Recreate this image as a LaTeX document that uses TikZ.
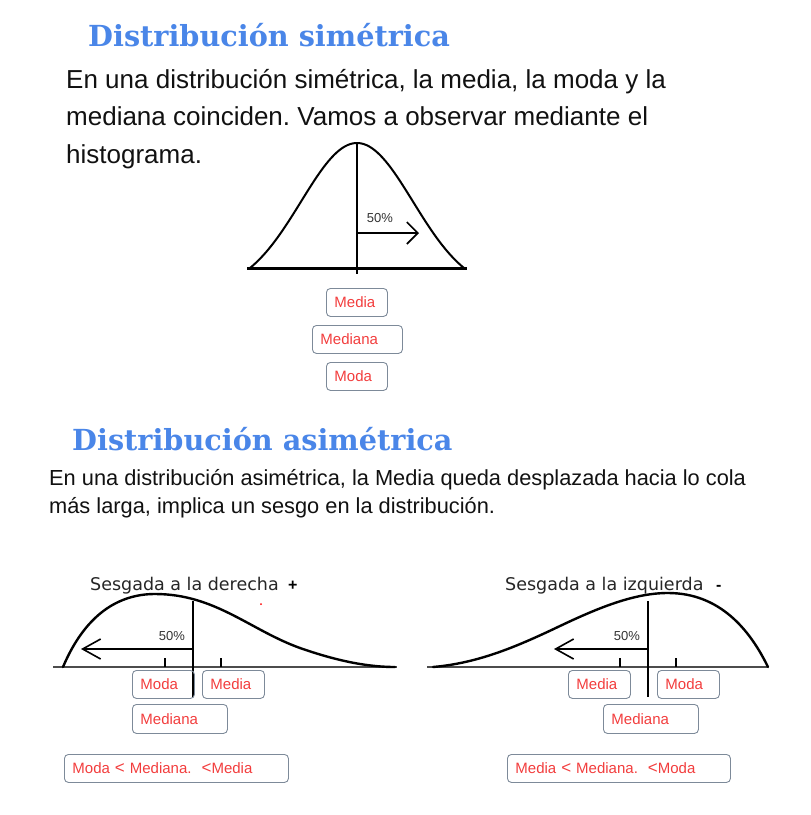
\documentclass[tikz,border=0pt]{standalone}
\usepackage{fontspec}
\setmainfont{Liberation Sans}
\newfontfamily\titlefont{DejaVu Serif}
\newfontfamily\labfont{DejaVu Sans}
\usetikzlibrary{arrows.meta}
\definecolor{titleblue}{HTML}{4A86E8}
\definecolor{boxred}{HTML}{F23D3D}
\definecolor{boxgray}{HTML}{7D8A99}
\definecolor{txt}{HTML}{111111}
\frenchspacing
\tikzset{
  ttl/.style={anchor=base west, inner sep=0pt, text=titleblue, font=\titlefont\bfseries\fontsize{29}{32}\selectfont},
  para/.style={anchor=base west, inner sep=0pt, text=txt},
  lbl/.style={anchor=base west, inner sep=0pt, text=black!85, font=\labfont\fontsize{17.5}{20}\selectfont},
  pct/.style={inner sep=0pt, text=black!80, font=\fontsize{13}{15}\selectfont},
  rbox/.style={draw=boxgray, line width=0.9pt, rounded corners=4pt, anchor=north west, text=boxred,
     font=\fontsize{15}{17}\selectfont, align=left, inner xsep=8pt, inner ysep=0pt, minimum height=28pt},
  crv/.style={line width=2.4pt, line cap=round},
  vline/.style={line width=2pt},
  tick/.style={line width=1.8pt},
  axis/.style={line width=1.3pt, draw=black!70},
  arr/.style={line width=2.2pt, -{Straight Barb[length=18pt,width=20pt,line width=1.6pt]}},
}
\begin{document}
\begin{tikzpicture}[x=1pt,y=-1pt]
\useasboundingbox (0,0) rectangle (811,815);
% ---------- symmetric ----------
\node[ttl] (t1) at (88,46) {\scalebox{0.99}[1]{Distribución simétrica}};
\node[para, font=\fontsize{26}{29}\selectfont] (p1a) at (66,88) {En una distribución simétrica, la media, la moda y la};
\node[para, font=\fontsize{26}{29}\selectfont] (p1b) at (66,125) {mediana coinciden. Vamos a observar mediante el};
\node[para, font=\fontsize{26}{29}\selectfont] (p1c) at (66,163) {histograma.};

\draw[line width=3pt] (247,268) -- (467,268);
\draw[crv, line width=2pt, domain=-107:107, samples=80, smooth]
  plot ({357+\x}, {268-125*(exp(-(\x*\x)/(2*56*56))-0.161)/(1-0.161)});
\coordinate (sv0) at (357,143);
\coordinate (sv1) at (357,274);
\draw[vline] (sv0) -- (sv1);
\coordinate (sa0) at (357,233);
\coordinate (sa1) at (419,233);
\draw[line width=2pt, -{Straight Barb[length=11pt,width=22pt,line width=1.6pt]}] (sa0) -- (sa1);
\node[pct] (s50) at (380,218) {50\%};

\node[rbox, minimum width=61pt, text width=45pt] (sm1) at (326,288) {Media};
\node[rbox, minimum width=90pt, text width=74pt] (sm2) at (312,325) {Mediana};
\node[rbox, minimum width=61pt, text width=45pt] (sm3) at (326,362) {Moda};

% ---------- asymmetric ----------
\node[ttl] (t2) at (72,450) {\scalebox{0.99}[1]{Distribución asimétrica}};
\node[para, font=\fontsize{21.8}{25}\selectfont] (p2a) at (49,485) {En una distribución asimétrica, la Media queda desplazada hacia lo cola};
\node[para, font=\fontsize{21.8}{25}\selectfont] (p2b) at (49,513) {más larga, implica un sesgo en la distribución.};

% left chart
\node[lbl] (l1) at (90,590) {Sesgada a la derecha};
\node[anchor=base west, inner sep=0pt, font=\bfseries\fontsize{16}{18}\selectfont] (lp) at (288,590) {+};
\fill[red] (261,604) circle (1pt);
\coordinate (la0) at (53,667);
\coordinate (la1) at (397,667);
\draw[axis] (la0) -- (la1);
\draw[crv] (63,667) .. controls (85,615) and (118,594) .. (155,594)
  .. controls (215,594) and (250,630) .. (300,648)
  .. controls (340,662) and (370,667) .. (395,667);
\coordinate (lv0) at (193,601);
\coordinate (lv1) at (193,697);
\draw[vline] (lv0) -- (lv1);
\coordinate (lr0) at (193,649);
\coordinate (lr1) at (81,649);
\draw[arr] (lr0) -- (lr1);
\node[pct] (l50) at (172,636) {50\%};
\draw[tick] (165,658) -- (165,667);
\draw[tick] (221,658) -- (221,667);
\node[rbox, minimum width=62pt, text width=46pt] (lb1) at (132,670) {Moda};
\node[rbox, minimum width=62pt, text width=46pt] (lb2) at (202,670) {Media};
\node[rbox, minimum width=95pt, text width=79pt, minimum height=29pt] (lb3) at (132,704) {Mediana};
\node[rbox, minimum width=224pt, text width=208pt] (lb4) at (64,754) {Moda {\fontsize{17}{17}\selectfont<} Mediana.\ \ {\fontsize{17}{17}\selectfont<}Media};

% right chart
\node[lbl] (r1) at (505,590) {Sesgada a la izquierda};
\node[anchor=base west, inner sep=0pt, font=\bfseries\fontsize{16}{18}\selectfont] (rm) at (716,590) {-};
\coordinate (ra0) at (427,667);
\coordinate (ra1) at (768,667);
\draw[axis] (ra0) -- (ra1);
\draw[crv] (433,667) .. controls (480,663) and (520,645) .. (560,626)
  .. controls (600,607) and (635,593) .. (668,593)
  .. controls (720,593) and (750,630) .. (768,667);
\coordinate (rv0) at (648,601);
\coordinate (rv1) at (648,697);
\draw[vline] (rv0) -- (rv1);
\coordinate (rr0) at (648,649);
\coordinate (rr1) at (554,649);
\draw[arr] (rr0) -- (rr1);
\node[pct] (r50) at (627,636) {50\%};
\draw[tick] (620,658) -- (620,667);
\draw[tick] (676,658) -- (676,667);
\node[rbox, minimum width=62pt, text width=46pt] (rb1) at (568,670) {Media};
\node[rbox, minimum width=62pt, text width=46pt] (rb2) at (657,670) {Moda};
\node[rbox, minimum width=95pt, text width=79pt, minimum height=29pt] (rb3) at (603,704) {Mediana};
\node[rbox, minimum width=223pt, text width=207pt] (rb4) at (507,754) {Media {\fontsize{17}{17}\selectfont<} Mediana.\ \ {\fontsize{17}{17}\selectfont<}Moda};
\end{tikzpicture}
\end{document}
